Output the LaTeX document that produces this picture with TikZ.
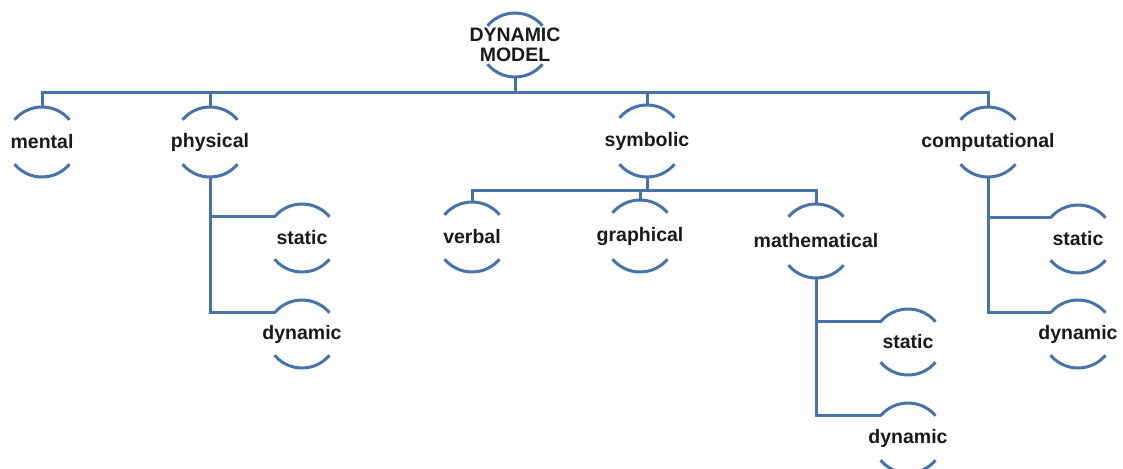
\documentclass[tikz,border=0pt]{standalone}
\usepackage{fontspec}
\setmainfont{Liberation Sans}
\definecolor{lineblue}{HTML}{4773AA}
\definecolor{txt}{HTML}{1A1A1A}
\tikzset{
  lbl/.style={font=\fontsize{19.5}{20}\selectfont\bfseries, text=txt, inner sep=0pt, align=center},
  arcline/.style={draw=lineblue, line width=3pt},
  conn/.style={draw=lineblue, line width=3pt, line join=miter},
}
\newcommand\archnode[5]{%
  \node[lbl] (#1) at (#2,-#3) {#5};
  \coordinate (#1-n) at (#2,-#3+#4);
  \coordinate (#1-s) at (#2,-#3-#4);
  \coordinate (#1-w) at (#2-27.5,-#3+#4-12.76);
  \draw[arcline] (#1-w) arc[start angle=139.8,end angle=40.2,radius=36];
  \draw[arcline] (#2-27.5,-#3-#4+12.76) arc[start angle=220.2,end angle=319.8,radius=36];
}
\begin{document}
\begin{tikzpicture}[x=1pt,y=1pt]
\useasboundingbox (0,0) rectangle (1123,-468);
\archnode{top}{515}{45}{32}{DYNAMIC\\MODEL}
\archnode{mental}{42}{142}{35}{mental}
\archnode{phys}{210}{142}{35}{physical}
\archnode{symb}{647}{141}{36}{symbolic}
\archnode{comp}{988}{142}{35}{computational}
\archnode{ps}{302}{238}{34}{static}
\archnode{pd}{302}{334}{34}{dynamic}
\archnode{verbal}{472}{237}{35}{verbal}
\archnode{graph}{640}{236}{36}{graphical}
\archnode{math}{816}{241}{37}{mathematical}
\archnode{ms}{908}{342}{33}{static}
\archnode{md}{908}{438}{35}{dynamic}
\archnode{cs}{1078}{239}{34}{static}
\archnode{cd}{1078}{334}{34}{dynamic}
\coordinate (bus) at (515,-93);
\coordinate (bus2) at (647,-190);
\draw[conn] (top-s) -- (bus);
\draw[conn] (mental-n) |- (comp-n |- bus) -- (comp-n);
\draw[conn] (phys-n) -- (phys-n |- bus);
\draw[conn] (symb-n) -- (symb-n |- bus);
\draw[conn] (phys-s) |- (pd-w);
\draw[conn] (phys-s |- ps-w) -- (ps-w);
\draw[conn] (symb-s) -- (bus2);
\draw[conn] (verbal-n) |- (math-n |- bus2) -- (math-n);
\draw[conn] (graph-n) -- (graph-n |- bus2);
\draw[conn] (math-s) |- (md-w);
\draw[conn] (math-s |- ms-w) -- (ms-w);
\draw[conn] (comp-s) |- (cd-w);
\draw[conn] (comp-s |- cs-w) -- (cs-w);
\end{tikzpicture}
\end{document}
